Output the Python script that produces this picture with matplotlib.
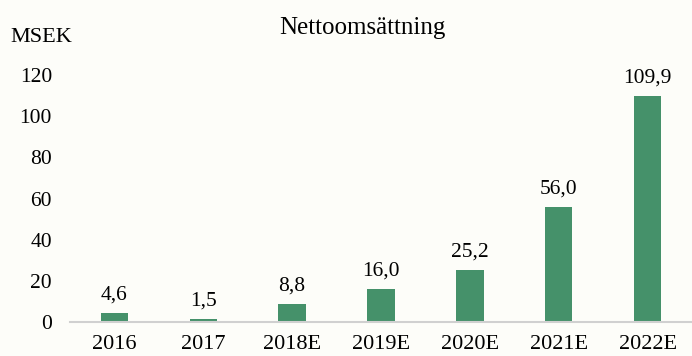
import matplotlib.pyplot as plt
import numpy as np

plt.rcParams["font.family"] = ["Liberation Serif", "DejaVu Serif"]

years = ["2016", "2017", "2018E", "2019E", "2020E", "2021E", "2022E"]
revenue = [4.6, 1.5, 8.8, 16.0, 25.2, 56.0, 109.9]
y_ticks = [0, 20, 40, 60, 80, 100, 120]

BAR_COLOR = "#45916a"
BG = "#fdfdf9"

fig = plt.figure(figsize=(6.92, 3.56), dpi=100, facecolor=BG)
ax = fig.add_axes([70 / 692, 34 / 356, 622 / 692, 247 / 356], facecolor=BG)

x = np.arange(len(years))
ax.bar(x, revenue, width=0.31, color=BAR_COLOR)

for xi, val in zip(x, revenue):
    ax.annotate(
        f"{val:.1f}".replace(".", ","),
        (xi, val),
        xytext=(0, 6),
        textcoords="offset points",
        ha="center",
        va="bottom",
        fontsize=15.5,
    )

ax.set_xlim(-0.5, len(years) - 0.5)
ax.set_ylim(0, 120)
ax.set_xticks(x)
ax.set_xticklabels(years, fontsize=16)
ax.set_yticks(y_ticks)
ax.set_yticklabels([str(t) for t in y_ticks], fontsize=15.5)
ax.tick_params(axis="x", length=0, pad=9.5)
ax.tick_params(axis="y", length=0, pad=13)

for side in ["top", "right", "left"]:
    ax.spines[side].set_visible(False)
ax.spines["bottom"].set_color("#d0d0d0")
ax.spines["bottom"].set_linewidth(1.5)

fig.text(362 / 692, 1 - 28 / 356, "Nettoomsättning", ha="center", va="center", fontsize=18)
fig.text(10 / 692, 1 - 37 / 356, "MSEK", ha="left", va="center", fontsize=16)

fig.savefig("out.png", dpi=100, facecolor=BG)
